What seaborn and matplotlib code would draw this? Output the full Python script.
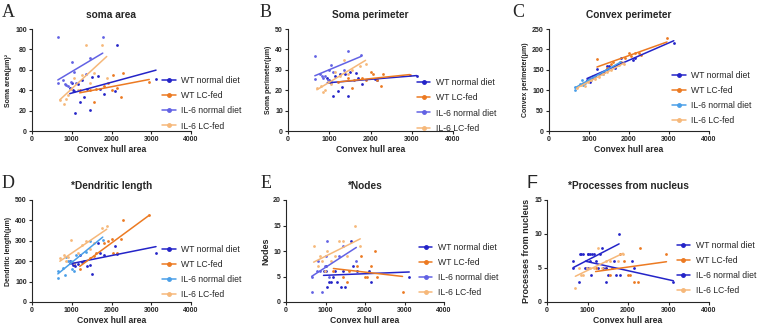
import matplotlib.pyplot as plt
import seaborn as sns
from matplotlib.lines import Line2D

# convex hull area of every cell, one list per group (same cells in all panels)
x_wt = [950, 1000, 1020, 1050, 1080, 1150, 1200, 1250, 1300, 1380, 1450, 1500, 1650, 1700, 1800, 2100, 2150, 3120]
x_wt_lc = [1200, 1450, 1550, 1600, 1800, 1900, 2000, 2050, 2150, 2250, 2300, 2950]
x_il6 = [650, 650, 780, 820, 850, 900, 980, 1000, 1050, 1100, 1350, 1450, 1780]
x_il6_lc = [700, 800, 850, 900, 980, 1050, 1150, 1250, 1350, 1450, 1550, 1750, 1880]

groups = ["WT normal diet", "WT LC-fed", "IL-6 normal diet", "IL-6 LC-fed"]

# A soma area
area_wt = [42, 47, 40, 39, 18, 46, 28, 50, 33, 41, 21, 53, 54, 41, 36, 39, 84, 51]
area_wt_lc = [40, 40, 28, 41, 44, 47, 40, 55, 42, 33, 57, 48]
area_il6 = [92, 47, 50, 46, 45, 44, 48, 68, 58, 47, 56, 72, 92]
area_il6_lc = [30, 26, 31, 35, 41, 52, 40, 55, 84, 47, 57, 84, 52]

# B soma perimeter
sper_wt = [26, 25, 24, 24, 17, 27, 19.5, 28, 21.5, 28, 17, 29, 28.5, 26, 23, 25.5, 25, 27]
sper_wt_lc = [24, 26, 21, 25, 26, 25, 29, 28, 25, 22, 28, 27.5]
sper_il6 = [37, 25.5, 28, 27, 26, 27, 25, 30, 32.5, 29, 30, 39, 37.5]
sper_il6_lc = [21, 22, 19, 20, 24, 23, 29, 27, 35, 28, 30, 32, 33]

# C convex perimeter
cper_wt = [125, 130, 120, 128, 131, 135, 152, 140, 142, 145, 160, 160, 155, 162, 179, 175, 178, 215]
cper_wt_lc = [177, 155, 165, 170, 170, 180, 192, 185, 190, 192, 187, 228]
cper_il6 = [101, 107, 115, 125, 112, 118, 122, 128, 125, 135, 140, 150, 170]
cper_il6_lc = [105, 112, 118, 110, 120, 125, 128, 132, 140, 145, 150, 162, 165]

# D dendritic length
dend_wt = [200, 190, 180, 185, 175, 185, 230, 195, 200, 175, 180, 135, 290, 240, 230, 275, 235, 240]
dend_wt_lc = [160, 215, 225, 240, 290, 300, 310, 240, 240, 310, 400, 425]
dend_il6 = [120, 150, 165, 130, 220, 200, 200, 160, 150, 230, 245, 300, 305]
dend_il6_lc = [215, 230, 200, 220, 305, 190, 240, 280, 300, 260, 290, 365, 375]

# E nodes
nodes_wt = [6, 7, 6, 3, 4, 4, 5, 6, 4, 3, 6, 3, 12, 7, 6, 6, 4, 5]
nodes_wt_lc = [6, 5, 4, 6, 7, 9, 5, 5, 7, 10, 5, 2]
nodes_il6 = [2, 5, 6, 8, 6, 2, 7, 9, 12, 5, 9, 11, 8]
nodes_il6_lc = [11, 7, 9, 8, 6, 10, 8, 9, 12, 12, 9, 15, 11]

# F processes from nucleus
proc_wt = [5, 7, 7, 7, 4, 7, 6, 5, 7, 5, 3, 4, 6, 4, 4, 6, 5, 3]
proc_wt_lc = [5, 5, 4, 5, 7, 6, 4, 4, 3, 3, 8, 7]
proc_il6 = [6, 5, 3, 7, 7, 7, 5, 5, 6, 7, 8, 5, 10]
proc_il6_lc = [2, 5, 4, 4, 5, 5, 5, 8, 5, 6, 6, 6, 7]

sns.set_style("ticks")
plt.rcParams['font.family'] = ['Liberation Sans', 'DejaVu Sans']

dark_blue = "#2424c8"
orange = "#ec7a22"
purple = "#6262e4"
light_blue = "#4a9fe8"
light_orange = "#f6b87a"

# letter, title, ylabel, ymax, ystep, data, il6 colour, box(l, r, t, b px), legend(x, y)
panels = [
    ("A", "soma area", "Soma area(μm)²", 100, 20,
     [area_wt, area_wt_lc, area_il6, area_il6_lc], purple, (32, 191, 29, 131), (0.82, 0.27)),
    ("B", "Soma perimeter", "Soma perimeter(μm)", 50, 10,
     [sper_wt, sper_wt_lc, sper_il6, sper_il6_lc], purple, (288, 453, 29, 131), (0.78, 0.25)),
    ("C", "Convex perimeter", "Convex perimeter(μm)", 250, 50,
     [cper_wt, cper_wt_lc, cper_il6, cper_il6_lc], light_blue, (549, 709, 29, 131), (0.77, 0.32)),
    ("D", "*Dendritic length", "Dendritic length(μm)", 500, 100,
     [dend_wt, dend_wt_lc, dend_il6, dend_il6_lc], light_blue, (32, 191, 200, 302), (0.82, 0.29)),
    ("E", "*Nodes", "Nodes", 20, 5,
     [nodes_wt, nodes_wt_lc, nodes_il6, nodes_il6_lc], purple, (286, 444, 200, 302), (0.84, 0.31)),
    ("F", "*Processes from nucleus", "Processes from nucleus", 15, 5,
     [proc_wt, proc_wt_lc, proc_il6, proc_il6_lc], dark_blue, (547, 709, 200, 302), (0.80, 0.33)),
]
xs = [x_wt, x_wt_lc, x_il6, x_il6_lc]

W, H = 758, 325
fig = plt.figure(figsize=(W / 100, H / 100), dpi=100)

for letter, title, ylabel, ymax, ystep, ys, il6_col, box, leg in panels:
    l, r, t, b = box
    ax = fig.add_axes([l / W, 1 - b / H, (r - l) / W, (b - t) / H])
    colors = [dark_blue, orange, il6_col, light_orange]
    for x, y, c in zip(xs, ys, colors):
        sns.regplot(x=x, y=y, ax=ax, ci=None, color=c, truncate=True,
                    scatter_kws={"s": 4, "linewidths": 0, "alpha": 1},
                    line_kws={"lw": 1.1})
    ax.set_xlim(0, 4000)
    ax.set_ylim(0, ymax)
    ax.set_xticks(range(0, 4001, 1000))
    ax.set_yticks(range(0, ymax + 1, ystep))
    for s in ["top", "right"]:
        ax.spines[s].set_visible(False)
    for s in ["left", "bottom"]:
        ax.spines[s].set_linewidth(0.8)
    ax.tick_params(length=2.5, width=0.8, pad=1.2, labelsize=5)
    for lab in ax.get_xticklabels() + ax.get_yticklabels():
        lab.set_fontweight("bold")
    ax.set_xlabel("Convex hull area", fontsize=6.2, fontweight="bold", labelpad=1)
    ysize = 6.5 if letter in "EF" else 5
    ax.set_ylabel(ylabel, fontsize=ysize, fontweight="bold", labelpad=2)
    ax.set_title(title, fontsize=7.3, fontweight="bold", pad=8)
    handles = [Line2D([], [], color=c, marker="o", markersize=2.5, lw=1.1) for c in colors]
    ax.legend(handles, groups, loc="center left", bbox_to_anchor=leg, frameon=False,
              fontsize=6.2, borderpad=0, borderaxespad=0, handlelength=1.6,
              handletextpad=0.6, labelspacing=0.7)
    lfam = ["Liberation Sans"] if letter == "F" else ["Liberation Serif"]
    lx = {"A": 2, "B": 260, "C": 512, "D": 2, "E": 261, "F": 526}[letter]
    ly = 4 if t < 100 else 175
    fig.text(lx / W, 1 - ly / H, letter, fontsize=13, family=lfam, va="top", ha="left")

fig.savefig("out.png", dpi=100)
